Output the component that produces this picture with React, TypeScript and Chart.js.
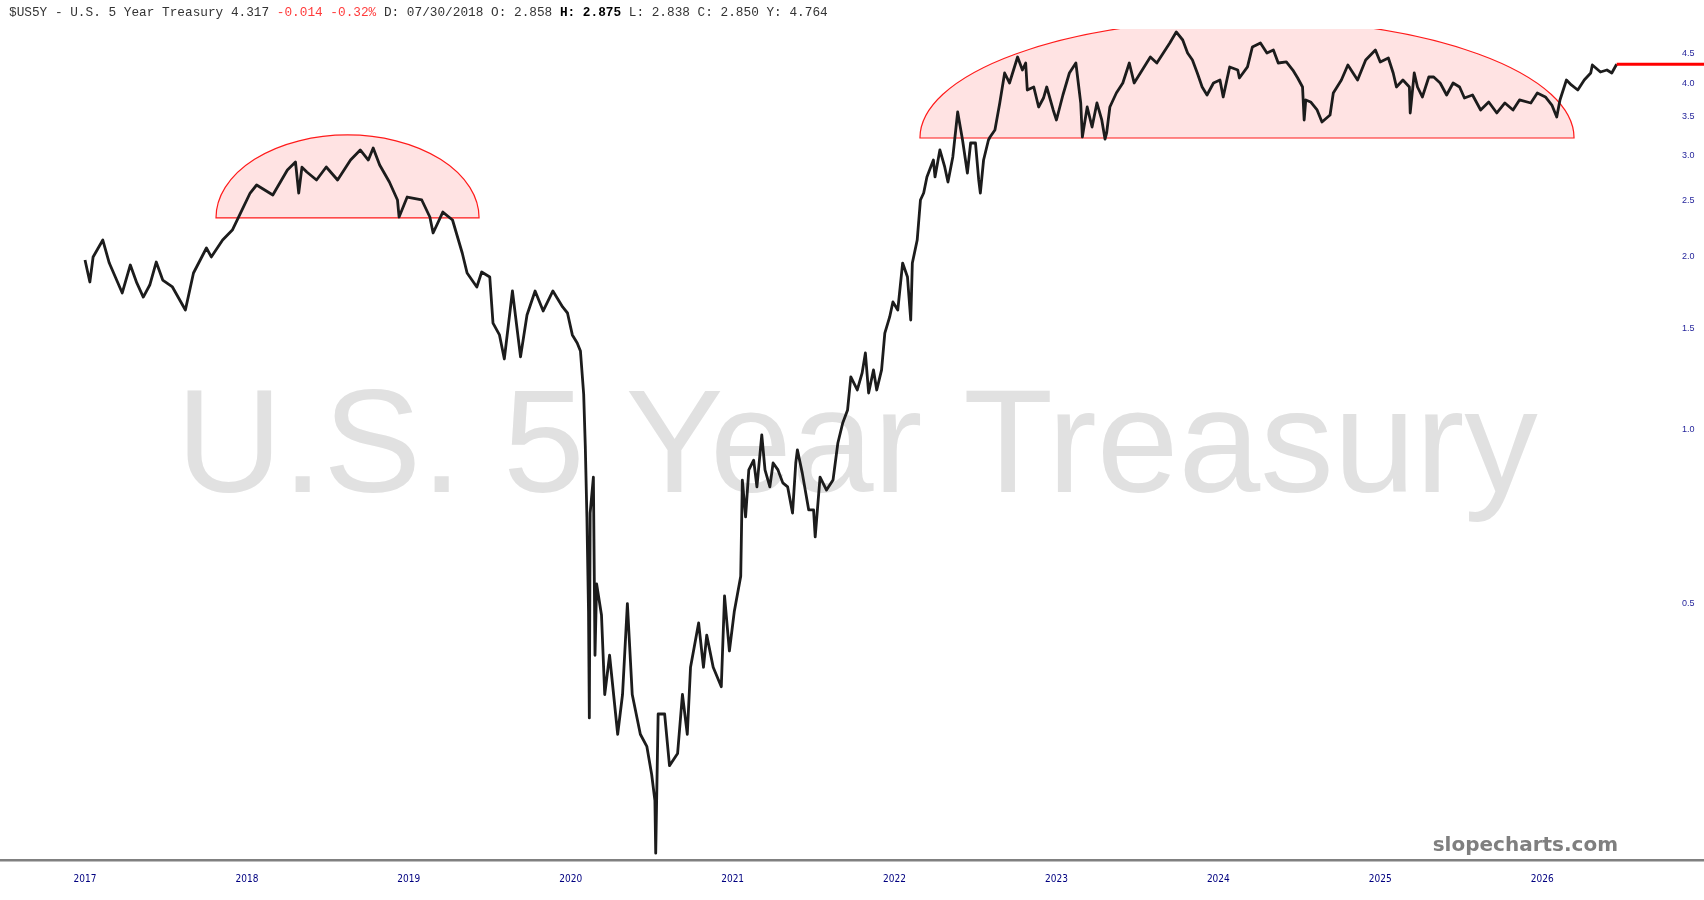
import React, { useEffect, useRef } from "react";
import { Chart, registerables } from "chart.js";

Chart.register(...registerables);

// ---------- DATA (decimal year, yield %) ----------
const datesEarly = [2017.00, 2017.03, 2017.05, 2017.11, 2017.15, 2017.23, 2017.28, 2017.32, 2017.36, 2017.40, 2017.44, 2017.48, 2017.54, 2017.62, 2017.67, 2017.75, 2017.78, 2017.85, 2017.91, 2017.97, 2018.02, 2018.06, 2018.16, 2018.25, 2018.30, 2018.32, 2018.34, 2018.37, 2018.43, 2018.49, 2018.56, 2018.64, 2018.70, 2018.75, 2018.78, 2018.82, 2018.88, 2018.93, 2018.94, 2018.99, 2019.08, 2019.13, 2019.15, 2019.21, 2019.27, 2019.33, 2019.36, 2019.42, 2019.45, 2019.50];
const yieldsEarly = [1.973, 1.807, 1.997, 2.137, 1.949, 1.729, 1.934, 1.800, 1.701, 1.785, 1.957, 1.821, 1.771, 1.615, 1.873, 2.070, 1.997, 2.137, 2.224, 2.410, 2.579, 2.663, 2.559, 2.828, 2.920, 2.579, 2.860, 2.805, 2.717, 2.862, 2.717, 2.943, 3.064, 2.943, 3.088, 2.885, 2.695, 2.508, 2.343, 2.538, 2.508, 2.343, 2.198, 2.390, 2.315, 2.029, 1.873, 1.771, 1.880, 1.843];

const datesCrash = [2019.52, 2019.56, 2019.59, 2019.64, 2019.69, 2019.73, 2019.78, 2019.83, 2019.89, 2019.95, 2019.98, 2020.01, 2020.04, 2020.06, 2020.08, 2020.09, 2020.10, 2020.11, 2020.115, 2020.12, 2020.14, 2020.15, 2020.16, 2020.19, 2020.21, 2020.24, 2020.29, 2020.32, 2020.35, 2020.38, 2020.43, 2020.47, 2020.50, 2020.52, 2020.525, 2020.54, 2020.58, 2020.61, 2020.66, 2020.69, 2020.72, 2020.74, 2020.79, 2020.82, 2020.84, 2020.88, 2020.93, 2020.95, 2020.98, 2021.01, 2021.05];
const yieldsCrash = [1.533, 1.462, 1.328, 1.743, 1.339, 1.583, 1.743, 1.609, 1.743, 1.635, 1.596, 1.462, 1.416, 1.371, 1.154, 0.938, 0.706, 0.483, 0.316, 0.717, 0.828, 0.406, 0.540, 0.477, 0.347, 0.406, 0.296, 0.347, 0.499, 0.347, 0.296, 0.282, 0.252, 0.227, 0.184, 0.321, 0.321, 0.261, 0.274, 0.347, 0.296, 0.387, 0.462, 0.387, 0.440, 0.387, 0.358, 0.515, 0.413, 0.483, 0.557];

const datesRise = [2021.06, 2021.08, 2021.10, 2021.13, 2021.15, 2021.18, 2021.20, 2021.23, 2021.25, 2021.28, 2021.31, 2021.34, 2021.37, 2021.39, 2021.40, 2021.43, 2021.47, 2021.50, 2021.51, 2021.54, 2021.58, 2021.62, 2021.65, 2021.68, 2021.71, 2021.73, 2021.77, 2021.80, 2021.82, 2021.84, 2021.87, 2021.89, 2021.92, 2021.94, 2021.97, 2021.99, 2022.02, 2022.05, 2022.08, 2022.10, 2022.11, 2022.14, 2022.16, 2022.18, 2022.20, 2022.24, 2022.25, 2022.28, 2022.31, 2022.33, 2022.36, 2022.39, 2022.42, 2022.45, 2022.47, 2022.50, 2022.52, 2022.53, 2022.55, 2022.58];
const yieldsRise = [0.818, 0.706, 0.852, 0.886, 0.796, 0.980, 0.852, 0.796, 0.876, 0.852, 0.809, 0.796, 0.717, 0.876, 0.923, 0.842, 0.726, 0.726, 0.652, 0.828, 0.786, 0.818, 0.949, 1.028, 1.083, 1.236, 1.173, 1.256, 1.360, 1.159, 1.271, 1.173, 1.271, 1.473, 1.571, 1.668, 1.615, 1.949, 1.843, 1.552, 1.949, 2.137, 2.508, 2.579, 2.750, 2.943, 2.750, 3.064, 2.862, 2.695, 2.979, 3.566, 3.188, 2.794, 3.150, 3.150, 2.717, 2.579, 2.943, 3.188];

const datesTop = [2022.59, 2022.62, 2022.65, 2022.68, 2022.71, 2022.76, 2022.79, 2022.81, 2022.82, 2022.86, 2022.89, 2022.92, 2022.94, 2022.98,
  2023.00, 2023.04, 2023.08, 2023.12, 2023.15, 2023.16, 2023.19, 2023.22, 2023.25, 2023.28, 2023.30, 2023.31, 2023.33, 2023.37, 2023.41, 2023.45, 2023.48, 2023.53, 2023.58, 2023.62, 2023.66, 2023.70, 2023.74, 2023.78, 2023.81, 2023.84, 2023.87, 2023.90, 2023.93, 2023.97,
  2024.01, 2024.03, 2024.07, 2024.12, 2024.13, 2024.18, 2024.21, 2024.26, 2024.30, 2024.34, 2024.37, 2024.42, 2024.46, 2024.49, 2024.52, 2024.53, 2024.54, 2024.57, 2024.61, 2024.64, 2024.69, 2024.71, 2024.76, 2024.80, 2024.86, 2024.91, 2024.97];
const yieldsTop = [3.227, 3.318, 3.697, 4.168, 4.005, 4.444, 4.218, 4.338, 3.894, 3.941, 3.638, 3.771, 3.941, 3.595,
  3.454, 3.817, 4.168, 4.338, 3.697, 3.227, 3.638, 3.358, 3.697, 3.454, 3.200, 3.279, 3.638, 3.848, 4.005, 4.338, 4.005, 4.218, 4.444, 4.338, 4.515, 4.700, 4.911, 4.756, 4.515, 4.391, 4.168, 3.941, 3.817, 4.005,
  4.053, 3.787, 4.270, 4.218, 4.086, 4.270, 4.625, 4.700, 4.515, 4.570, 4.338, 4.356, 4.218, 4.086, 3.941, 3.454, 3.742, 3.712, 3.595, 3.426, 3.524, 3.848, 4.053, 4.304, 4.053, 4.391, 4.570];

const datesLate = [2025.00, 2025.05, 2025.08, 2025.10, 2025.14, 2025.18, 2025.185, 2025.21, 2025.23, 2025.26, 2025.30, 2025.33, 2025.37, 2025.41, 2025.45, 2025.49, 2025.52, 2025.57, 2025.62, 2025.67, 2025.72, 2025.77, 2025.82, 2025.86, 2025.93, 2025.97,
  2026.02, 2026.06, 2026.09, 2026.11, 2026.15, 2026.18, 2026.22, 2026.26, 2026.30, 2026.31, 2026.36, 2026.40, 2026.43, 2026.46];
const yieldsLate = [4.356, 4.426, 4.168, 3.941, 4.053, 3.941, 3.552, 4.168, 3.941, 3.787, 4.102, 4.102, 4.005, 3.817, 4.005, 3.941, 3.771, 3.817, 3.595, 3.712, 3.552, 3.697, 3.595, 3.742, 3.697, 3.848,
  3.787, 3.667, 3.496, 3.742, 4.053, 3.973, 3.894, 4.053, 4.168, 4.304, 4.185, 4.218, 4.168, 4.317];

const yearTicks = [2017, 2018, 2019, 2020, 2021, 2022, 2023, 2024, 2025, 2026];
const yieldTicks = [0.5, 1.0, 1.5, 2.0, 2.5, 3.0, 3.5, 4.0, 4.5];

// half-ellipse annotations (start year, end year, base yield, top yield)
const domeStarts = [2017.809, 2022.157];
const domeEnds = [2019.434, 2026.197];
const domeBases = [2.334, 3.214];
const domeTops = [3.253, 5.17];

const lastYield = 4.317;
const watermark = "U.S. 5 Year Treasury";
const brand = "slopecharts.com";
const headerParts = [
  { text: "$US5Y - U.S. 5 Year Treasury 4.317 ", color: "#333333", bold: false },
  { text: "-0.014 -0.32%", color: "#ff3b3b", bold: false },
  { text: " D: 07/30/2018 O: 2.858 ", color: "#333333", bold: false },
  { text: "H: 2.875", color: "#000000", bold: true },
  { text: " L: 2.838 C: 2.850 Y: 4.764", color: "#333333", bold: false },
];

function combine(ds: number[][], ys: number[][]) {
  const out: { x: number; y: number }[] = [];
  ds.forEach((d, k) => {
    const yv = ys[k];
    const n = Math.min(d.length, yv.length);
    for (let i = 0; i < n; i++) out.push({ x: d[i], y: yv[i] });
  });
  return out;
}

const W = 1704;
const H = 900;

export default function App() {
  const ref = useRef<HTMLCanvasElement | null>(null);

  useEffect(() => {
    const canvas = ref.current;
    if (!canvas) return;
    const points = combine(
      [datesEarly, datesCrash, datesRise, datesTop, datesLate],
      [yieldsEarly, yieldsCrash, yieldsRise, yieldsTop, yieldsLate]
    );
    const lastDate = points[points.length - 1].x;

    const overlay = {
      id: "overlay",
      beforeDatasetsDraw(chart: any) {
        const { ctx, chartArea } = chart;
        const xs = chart.scales.x;
        const ysc = chart.scales.y;
        ctx.save();
        ctx.font = '147px "Liberation Sans", Arial, sans-serif';
        ctx.fillStyle = "#e1e1e1";
        ctx.textAlign = "center";
        ctx.textBaseline = "alphabetic";
        ctx.fillText(watermark, 857, 492);
        ctx.restore();

        ctx.save();
        ctx.beginPath();
        ctx.rect(chartArea.left, chartArea.top, chartArea.right - chartArea.left, chartArea.bottom - chartArea.top);
        ctx.clip();
        for (let i = 0; i < domeStarts.length; i++) {
          const x1 = xs.getPixelForValue(domeStarts[i]);
          const x2 = xs.getPixelForValue(domeEnds[i]);
          const yb = ysc.getPixelForValue(domeBases[i]);
          const yt = ysc.getPixelForValue(domeTops[i]);
          ctx.beginPath();
          ctx.ellipse((x1 + x2) / 2, yb, (x2 - x1) / 2, yb - yt, 0, Math.PI, 2 * Math.PI);
          ctx.closePath();
          ctx.fillStyle = "rgba(255,0,0,0.11)";
          ctx.fill();
          ctx.strokeStyle = "#ff1a1a";
          ctx.lineWidth = 1.2;
          ctx.stroke();
        }
        ctx.restore();
      },
      afterDraw(chart: any) {
        const { ctx, chartArea } = chart;
        const xs = chart.scales.x;
        const ysc = chart.scales.y;
        ctx.save();
        const ly = ysc.getPixelForValue(lastYield);
        const lx = xs.getPixelForValue(lastDate);
        ctx.strokeStyle = "#ff0000";
        ctx.lineWidth = 3;
        ctx.beginPath();
        ctx.moveTo(lx, ly);
        ctx.lineTo(W, ly);
        ctx.stroke();
        ctx.fillStyle = "#808080";
        ctx.fillRect(0, chartArea.bottom - 1, W, 2.5);
        ctx.font = 'bold 20px "DejaVu Sans", Verdana, sans-serif';
        ctx.fillStyle = "#7f7f7f";
        ctx.textAlign = "right";
        ctx.textBaseline = "alphabetic";
        ctx.fillText(brand, 1618, 851);
        ctx.textAlign = "left";
        ctx.textBaseline = "middle";
        let hx = 9;
        for (const p of headerParts) {
          ctx.font = (p.bold ? "bold " : "") + '12.75px "Liberation Mono", "Courier New", monospace';
          ctx.fillStyle = p.color;
          ctx.fillText(p.text, hx, 13);
          hx += ctx.measureText(p.text).width;
        }
        ctx.restore();
      },
    };

    const chart = new Chart(canvas, {
      type: "line",
      data: {
        datasets: [
          {
            label: "US5Y",
            data: points,
            borderColor: "#1c1c1c",
            borderWidth: 2.8,
            pointRadius: 0,
            tension: 0,
            borderJoinStyle: "round",
          } as any,
        ],
      },
      options: {
        animation: false,
        responsive: false,
        devicePixelRatio: 1,
        layout: { padding: { top: 29, left: 0, right: 0, bottom: 0 } },
        plugins: { legend: { display: false }, tooltip: { enabled: false }, title: { display: false } },
        scales: {
          x: {
            type: "linear",
            min: 2016.475,
            max: 2026.839,
            position: "bottom",
            grid: { display: false, drawTicks: false },
            border: { display: false },
            afterFit: (s: any) => { s.height = 40; },
            afterBuildTicks: (s: any) => { s.ticks = yearTicks.map((v) => ({ value: v })); },
            ticks: {
              autoSkip: false,
              maxRotation: 0,
              padding: 13,
              color: "#000080",
              font: { family: '"Liberation Sans Narrow", "DejaVu Sans Condensed", Arial, sans-serif', size: 10 },
              callback: (v: any) => String(v),
            },
          },
          y: {
            type: "logarithmic",
            position: "right",
            min: 0.179,
            max: 4.97,
            grid: { display: false, drawTicks: false },
            border: { display: false },
            afterFit: (s: any) => { s.width = 26; },
            afterBuildTicks: (s: any) => { s.ticks = yieldTicks.map((v) => ({ value: v })); },
            ticks: {
              padding: 4,
              color: "#1f1f99",
              font: { family: '"Liberation Sans", Arial, sans-serif', size: 9 },
              callback: (v: any) => Number(v).toFixed(1),
            },
          },
        },
      } as any,
      plugins: [overlay],
    });
    return () => chart.destroy();
  }, []);

  return (
    <div style={{ position: "fixed", left: 0, top: 0, width: W, height: H, background: "#ffffff" }}>
      <canvas ref={ref} width={W} height={H} style={{ display: "block", width: W, height: H }} />
    </div>
  );
}
